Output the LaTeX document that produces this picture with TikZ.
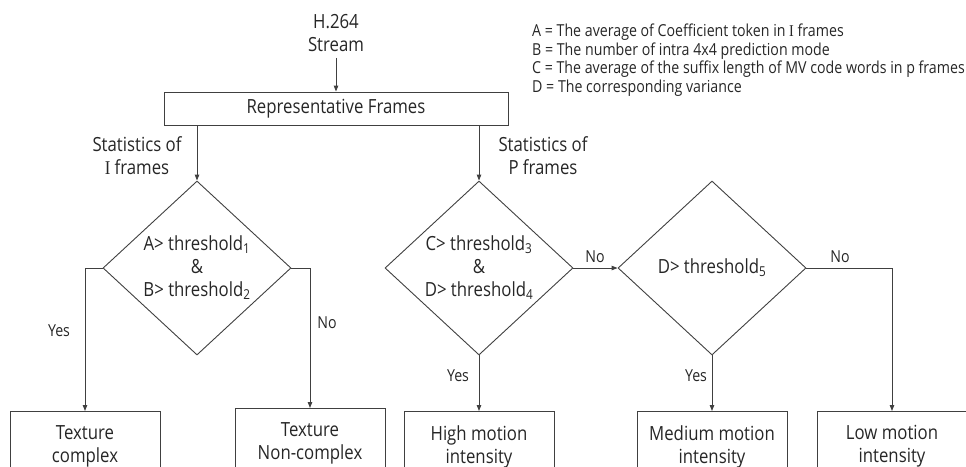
\documentclass[tikz,border=0pt]{standalone}
\usepackage{fontspec}
\setmainfont[FakeStretch=0.86]{Open Sans}
\newfontfamily\serifI[FakeStretch=0.86]{Liberation Serif}
\usetikzlibrary{arrows.meta,shapes.geometric}
\begin{document}
\begin{tikzpicture}[x=1pt,y=-1pt,
  line/.style={draw=black!75, line width=0.9pt},
  arr/.style={line, -{Triangle[length=6pt,width=4.5pt]}},
  txt/.style={font=\fontsize{19.5}{23}\selectfont, text=black!85, align=center, inner sep=0pt},
  lbl/.style={font=\fontsize{16.5}{19}\selectfont, text=black!85, inner sep=0pt},
  legend/.style={font=\fontsize{16.5}{18.5}\selectfont, text=black!85, align=left, inner sep=0pt},
  box/.style={line, rectangle, minimum width=150pt, minimum height=70pt, anchor=north, txt},
  dia/.style={line, diamond, minimum width=188pt, minimum height=174pt, inner sep=0pt}]
\clip (0,0) rectangle (966,466);

% top
\node[txt] (stream) at (336,33) {H.264\\Stream};
\node[line, rectangle, minimum width=344pt, minimum height=33pt, txt] (rep) at (336,108.5) {Representative Frames};

% diamonds
\node[dia] (d1) at (197,268) {};
\node[dia] (d2) at (479,268) {};
\node[dia] (d3) at (712,268) {};
\node[txt] (d1t) at (197,267.5) {A{>}\ threshold\textsubscript{1}\\\&\\B{>}\ threshold\textsubscript{2}};
\node[txt] (d2t) at (479,267.5) {C{>}\ threshold\textsubscript{3}\\\&\\D{>}\ threshold\textsubscript{4}};
\node[txt] (d3t) at (712,268) {D{>}\ threshold\textsubscript{5}};

% statistics labels
\node[txt] (si) at (137,155.5) {Statistics of\\{\serifI I} frames};
\node[txt] (sp) at (543,155.5) {Statistics of\\P frames};

% result boxes
\node[box] (b1) at (85,411) {Texture\\complex};
\node[box] (b2) at (310,408) {Texture\\Non-complex};
\node[box] (b3) at (479,411) {High motion\\intensity};
\node[box] (b4) at (712,411) {Medium motion\\intensity};
\node[box] (b5) at (892,411) {Low motion\\intensity};

% legend
\node[legend, anchor=north west] (leg) at (532,24) {A = The average of Coefficient token in {\serifI I} frames\\
B = The number of intra 4x4 prediction mode\\
C = The average of the suffix length of MV code words in p frames\\
D = The corresponding variance};

% connectors
\draw[arr] ([yshift=-6pt]stream.south) -- (rep.north);
\draw[arr] (rep.south -| d1.north) -- (d1.north);
\draw[arr] (rep.south -| d2.north) -- (d2.north);
\draw[arr] (d1.west) -| (b1.north);
\draw[arr] (d1.east) -| (b2.north);
\draw[arr] (d2.south) -- (b3.north);
\draw[arr] (d2.east) -- (d3.west);
\draw[arr] (d3.south) -- (b4.north);
\draw[arr] (d3.east) -| (b5.north);

% connector labels
\node[lbl] (y1) at (59,331) {Yes};
\node[lbl] (n1) at (327,323) {No};
\node[lbl] (y2) at (458,376) {Yes};
\node[lbl] (n2) at (595,257) {No};
\node[lbl] (y3) at (696,376) {Yes};
\node[lbl] (n3) at (840,257) {No};
\end{tikzpicture}
\end{document}
